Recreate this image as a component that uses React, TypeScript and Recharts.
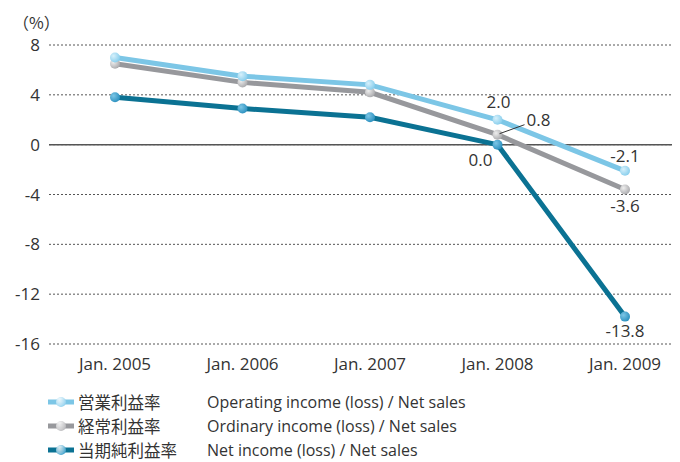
import React from "react";
import {
  LineChart,
  Line,
  XAxis,
  YAxis,
  CartesianGrid,
  ReferenceLine,
  LabelList,
} from "recharts";

const categories = ["Jan. 2005", "Jan. 2006", "Jan. 2007", "Jan. 2008", "Jan. 2009"];
const operatingMargin = [7.0, 5.5, 4.8, 2.0, -2.1];
const ordinaryMargin = [6.5, 5.0, 4.2, 0.8, -3.6];
const netMargin = [3.8, 2.9, 2.2, 0.0, -13.8];
const yTicks = [8, 4, 0, -4, -8, -12, -16];
const labeledIndex = [3, 4];

const seriesNamesJa = ["営業利益率", "経常利益率", "当期純利益率"];
const seriesNamesEn = [
  "Operating income (loss) / Net sales",
  "Ordinary income (loss) / Net sales",
  "Net income (loss) / Net sales",
];

const data = categories.map((c, i) => ({
  name: c,
  op: operatingMargin[i],
  ord: ordinaryMargin[i],
  net: netMargin[i],
}));

const COLORS = {
  op: "#7cc6e6",
  ord: "#97989c",
  net: "#0b7293",
};

const FONT = "'Open Sans', 'Noto Sans CJK JP', sans-serif";
const TEXT = "#333";

const dotFill: Record<string, string> = {
  op: "url(#gOp)",
  ord: "url(#gOrd)",
  net: "url(#gNet)",
};

const makeDot = (key: string) => (props: any) => {
  const { cx, cy, index } = props;
  if (cx == null || cy == null) return <g key={index} />;
  return <circle key={index} cx={cx} cy={cy} r={5} fill={dotFill[key]} />;
};

// label offsets per series / index (style only)
const labelOffsets: Record<string, Record<number, [number, number]>> = {
  op: { 3: [1, -18], 4: [0, -15] },
  ord: { 3: [41, -15], 4: [0, 16] },
  net: { 3: [-17, 15], 4: [0, 14] },
};

const makeLabel = (key: string) => (props: any) => {
  const { x, y, value, index } = props;
  if (!labeledIndex.includes(index)) return null;
  const off = labelOffsets[key][index];
  if (!off) return null;
  const txt = Number(value).toFixed(1);
  return (
    <g>
      {key === "ord" && index === 3 ? (
        <line x1={x + 2} y1={y - 1} x2={x + 27} y2={y - 10} stroke="#333" strokeWidth={1} />
      ) : null}
      <text
        x={x + off[0]}
        y={y + off[1]}
        textAnchor="middle"
        dominantBaseline="central"
        fontSize={17}
        fill={TEXT}
        fontFamily={FONT}
      >
        {txt}
      </text>
    </g>
  );
};

const LegendIcon = ({ color, dot }: { color: string; dot: string }) => (
  <svg width={26} height={12} style={{ display: "block" }}>
    <defs>
      <radialGradient id={"lg" + color.slice(1)} cx="35%" cy="35%" r="70%">
        <stop offset="0%" stopColor="#ffffff" stopOpacity={0.8} />
        <stop offset="100%" stopColor={dot} />
      </radialGradient>
    </defs>
    <rect x={0} y={3.5} width={26} height={5} fill={color} />
    <circle cx={13} cy={6} r={5} fill={"url(#lg" + color.slice(1) + ")"} />
  </svg>
);

const legendDots = ["#8fd0ee", "#b8b8bb", "#3b9fca"];
const legendColors = [COLORS.op, COLORS.ord, COLORS.net];
const legendTops = [391.5, 416, 439.5];

export default function App() {
  return (
    <div
      style={{
        position: "absolute",
        left: 0,
        top: 0,
        width: 680,
        height: 462,
        background: "#fff",
        fontFamily: FONT,
      }}
    >
      <div
        style={{
          position: "absolute",
          left: 13,
          top: 10,
          fontSize: 16,
          color: TEXT,
          fontFamily: "'Noto Sans CJK JP', sans-serif",
        }}
      >
        （%）
      </div>
      <div style={{ position: "absolute", left: 0, top: 0 }}>
        <LineChart
          width={680}
          height={380}
          data={data}
          margin={{ top: 45, right: 8, left: 0, bottom: 6 }}
        >
          <defs>
            <radialGradient id="gOp" cx="35%" cy="35%" r="70%">
              <stop offset="0%" stopColor="#d6f0fb" />
              <stop offset="100%" stopColor="#86cdec" />
            </radialGradient>
            <radialGradient id="gOrd" cx="35%" cy="35%" r="70%">
              <stop offset="0%" stopColor="#eeeeee" />
              <stop offset="100%" stopColor="#a9a9ac" />
            </radialGradient>
            <radialGradient id="gNet" cx="35%" cy="35%" r="70%">
              <stop offset="0%" stopColor="#7cc6e6" />
              <stop offset="100%" stopColor="#2a8fbe" />
            </radialGradient>
          </defs>
          <CartesianGrid
            horizontal
            vertical={false}
            stroke="#555"
            strokeDasharray="2 2"
          />
          <XAxis
            dataKey="name"
            axisLine={false}
            tickLine={false}
            tickSize={0}
            tickMargin={14}
            padding={{ left: 66, right: 47 }}
            tick={{ fontSize: 17, fill: TEXT, fontFamily: FONT }}
            interval={0}
            height={30}
          />
          <YAxis
            width={49}
            domain={[-16, 8]}
            ticks={yTicks}
            axisLine={false}
            tickLine={false}
            tickSize={0}
            tickMargin={9}
            tick={{ fontSize: 17, fill: TEXT, fontFamily: FONT }}
            interval={0}
          />
          <ReferenceLine y={0} stroke="#555" strokeWidth={1.5} />
          <Line
            dataKey="net"
            stroke={COLORS.net}
            strokeWidth={5}
            dot={makeDot("net")}
            activeDot={false}
            isAnimationActive={false}
          >
            <LabelList dataKey="net" content={makeLabel("net")} />
          </Line>
          <Line
            dataKey="ord"
            stroke={COLORS.ord}
            strokeWidth={5}
            dot={makeDot("ord")}
            activeDot={false}
            isAnimationActive={false}
          >
            <LabelList dataKey="ord" content={makeLabel("ord")} />
          </Line>
          <Line
            dataKey="op"
            stroke={COLORS.op}
            strokeWidth={5}
            dot={makeDot("op")}
            activeDot={false}
            isAnimationActive={false}
          >
            <LabelList dataKey="op" content={makeLabel("op")} />
          </Line>
        </LineChart>
      </div>
      {seriesNamesJa.map((ja, i) => (
        <div
          key={ja}
          style={{
            position: "absolute",
            left: 48,
            top: legendTops[i],
            height: 20,
            display: "flex",
            alignItems: "center",
            fontSize: 16,
            lineHeight: "20px",
            color: TEXT,
          }}
        >
          <LegendIcon color={legendColors[i]} dot={legendDots[i]} />
          <span
            style={{
              position: "absolute",
              left: 30,
              whiteSpace: "nowrap",
              fontSize: 16.5,
              fontFamily: "'Noto Sans CJK JP', sans-serif",
            }}
          >
            {ja}
          </span>
          <span
            style={{
              position: "absolute",
              left: 159,
              whiteSpace: "nowrap",
            }}
          >
            {seriesNamesEn[i]}
          </span>
        </div>
      ))}
    </div>
  );
}
